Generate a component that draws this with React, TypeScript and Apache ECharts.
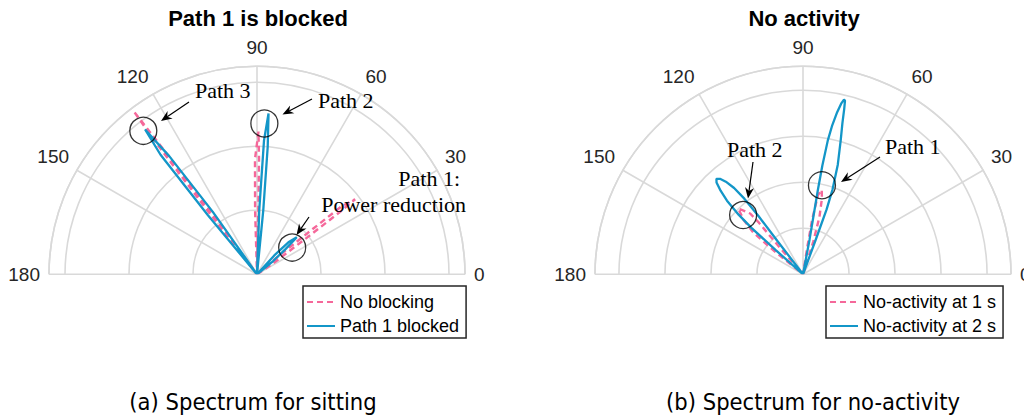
import React, { useEffect, useRef } from "react";
import * as echarts from "echarts";

// ---------- data: [radius, angle(deg)] ----------
const ANGLE_MIN = 0;
const ANGLE_MAX = 180;
const ANGLE_STEP = 30;

const LEFT_R_MAX = 3.25;
const RIGHT_R_MAX = 4.52;

const LEFT_SERIES_NAMES = ["No blocking", "Path 1 blocked"];
const RIGHT_SERIES_NAMES = ["No-activity at 1 s", "No-activity at 2 s"];

// (a) sitting: no blocking (pink dashed)
const NO_BLOCKING: number[][] = [
  [0, 30], [0.3, 34], [1.0, 36.3], [1.6, 36.9], [1.93, 37.4], [1.7, 38.8], [1.0, 39.2], [0.3, 41], [0, 44],
  [0, 88], [1.0, 88.8], [1.8, 89.0], [2.23, 89.4], [1.8, 91.0], [1.0, 91.7], [0, 92.5],
  [0, 125], [1.5, 126.5], [2.6, 126.9], [3.2, 127.1], [2.6, 127.5], [1.5, 127.8], [0, 129],
];

// (a) sitting: path 1 blocked (blue)
const PATH1_BLOCKED: number[][] = [
  [0, 36], [0.3, 39], [0.6, 41.5], [0.85, 43], [0.7, 45.5], [0.4, 47.5], [0, 50],
  [0, 83.5], [1.0, 84.4], [2.0, 85.2], [2.52, 85.9], [2.1, 87.0], [1.0, 88.0], [0, 88.8],
  [0, 124], [1.2, 125.3], [2.3, 126.6], [2.86, 127.7], [2.4, 128.9], [1.2, 129.7], [0, 130.5],
];

// (b) no activity at 1 s (pink dashed)
const NO_ACTIVITY_1S: number[][] = [
  [0, 74], [0.4, 72.5], [0.75, 72.5], [1.3, 74], [1.7, 76], [1.88, 77.5], [1.75, 79.3], [1.2, 80.5], [0.6, 81], [0, 80.5],
  [0, 128], [0.8, 131], [1.5, 130.5], [1.75, 131], [2.01, 134.5], [1.75, 137.5], [1.4, 140], [0.8, 141], [0, 140],
];

// (b) no activity at 2 s (blue)
const NO_ACTIVITY_2S: number[][] = [
  [0, 70], [0.8, 69.8], [1.5, 70.0], [1.95, 70.8], [2.5, 72.4], [3.03, 74.3], [3.4, 75.4], [3.7, 76.0], [3.88, 76.4], [3.9, 76.8], [3.8, 77.4], [3.6, 78.1], [3.3, 78.9], [2.96, 79.5], [2.4, 79.9], [1.86, 80.0], [0.76, 79.3], [0, 78.5],
  [0, 128], [0.9, 127.5], [1.6, 127.4], [2.08, 127.8], [2.4, 128.6], [2.62, 129.8], [2.75, 131], [2.8, 132.2], [2.74, 133.3], [2.55, 134.6], [2.3, 135.9], [1.9, 137.2], [1.5, 138.0], [0.8, 138.4], [0, 137],
];

// annotation circles [radius, angle]
const LEFT_MARKS: number[][] = [[2.86, 128.4], [2.36, 87.2], [0.69, 37.2]];
const RIGHT_MARKS: number[][] = [[1.98, 78], [1.83, 135.3]];

// ---------- layout / styles ----------
const PINK = "#f5689a";
const BLUE = "#1396c8";
const GRID = "#d9d9d9";
const SANS = "'Liberation Sans', Arial, Helvetica, sans-serif";
const SERIF = "'Liberation Serif', 'Times New Roman', serif";
const CAPTION_FONT = "'DejaVu Sans Condensed', 'Liberation Sans Narrow', 'DejaVu Sans', sans-serif";

const TEXTS = [
  { text: "Path 3", x: 195, y: 90, align: "left" },
  { text: "Path 2", x: 318, y: 100, align: "left" },
  { text: "Path 1:", x: 460, y: 178, align: "right" },
  { text: "Power reduction", x: 466, y: 204, align: "right" },
  { text: "Path 1", x: 885, y: 146, align: "left" },
  { text: "Path 2", x: 727, y: 149, align: "left" },
];

const ARROWS = [
  [189, 102, 161, 121],
  [312, 99, 282.5, 114.5],
  [309, 217, 296.5, 235],
  [880, 157, 841, 182],
  [753, 162, 748, 198.5],
];

function arrowElements(a: number[]) {
  const [x1, y1, x2, y2] = a;
  const dx = x2 - x1, dy = y2 - y1;
  const len = Math.hypot(dx, dy);
  const ux = dx / len, uy = dy / len;
  const px = -uy, py = ux;
  const L = 11, W = 4.5, N = 7.5;
  const bx = x2 - ux * L, by = y2 - uy * L;
  const nx = x2 - ux * N, ny = y2 - uy * N;
  return [
    {
      type: "line",
      shape: { x1, y1, x2: nx, y2: ny },
      style: { stroke: "#000", lineWidth: 1.2 },
      z: 100,
    },
    {
      type: "polygon",
      shape: {
        points: [
          [x2, y2],
          [bx + px * W, by + py * W],
          [nx, ny],
          [bx - px * W, by - py * W],
        ],
      },
      style: { fill: "#000" },
      z: 100,
    },
  ];
}

function angleAxis(polarIndex: number) {
  return {
    polarIndex,
    type: "value",
    min: ANGLE_MIN,
    max: ANGLE_MAX,
    interval: ANGLE_STEP,
    startAngle: 0,
    endAngle: 180,
    clockwise: false,
    axisLine: { show: true, lineStyle: { color: GRID, width: 1.6 } },
    axisTick: { show: false },
    axisLabel: { show: true, fontSize: 19, fontFamily: SANS, color: "#262626", margin: 9 },
    splitLine: { show: true, lineStyle: { color: GRID, width: 1.6 } },
  };
}

function radiusAxis(polarIndex: number, max: number) {
  return {
    polarIndex,
    type: "value",
    min: 0,
    max,
    interval: 1,
    axisLine: { show: false },
    axisTick: { show: false },
    axisLabel: { show: false },
    splitLine: { show: true, lineStyle: { color: GRID, width: 1.6 } },
  };
}

function legend(names: string[], left: number) {
  return {
    data: names,
    left,
    top: 286,
    orient: "vertical",
    itemWidth: 28,
    itemHeight: 14,
    itemGap: 6,
    padding: [7, 7, 3, 3],
    borderColor: "#262626",
    borderWidth: 1.5,
    borderRadius: 0,
    backgroundColor: "#fff",
    selectedMode: false,
    itemStyle: { color: "rgba(0,0,0,0)", borderWidth: 0, opacity: 0 },
    textStyle: { fontSize: 18, fontFamily: SANS, color: "#000" },
  };
}

function lineSeries(name: string, data: number[][], polarIndex: number, dashed: boolean) {
  const color = dashed ? PINK : BLUE;
  return {
    type: "line",
    name,
    coordinateSystem: "polar",
    polarIndex,
    data,
    symbol: "none",
    smooth: false,
    lineStyle: { color, width: dashed ? 2.4 : 2.3, type: dashed ? [6, 4] : "solid" },
    itemStyle: { color },
    z: dashed ? 2 : 3,
  };
}

function markSeries(data: number[][], polarIndex: number) {
  return {
    type: "scatter",
    coordinateSystem: "polar",
    polarIndex,
    data,
    symbol: "circle",
    symbolSize: 27,
    silent: true,
    itemStyle: { color: "rgba(0,0,0,0)", borderColor: "#000", borderWidth: 1.3 },
    z: 5,
  };
}

export default function App() {
  const ref = useRef<HTMLDivElement>(null);
  useEffect(() => {
    if (!ref.current) return;
    const chart = echarts.init(ref.current, undefined, { renderer: "svg" });
    const graphics: any[] = [
      {
        type: "text", x: 258, y: 18,
        style: { text: "Path 1 is blocked", fontSize: 22, fontWeight: "bold", fontFamily: SANS, fill: "#000", align: "center", verticalAlign: "middle" },
      },
      {
        type: "text", x: 804, y: 18,
        style: { text: "No activity", fontSize: 22, fontWeight: "bold", fontFamily: SANS, fill: "#000", align: "center", verticalAlign: "middle" },
      },
      {
        type: "text", x: 253, y: 402,
        style: { text: "(a) Spectrum for sitting", fontSize: 23.5, fontFamily: CAPTION_FONT, fill: "#000", align: "center", verticalAlign: "middle" },
      },
      {
        type: "text", x: 813, y: 402,
        style: { text: "(b) Spectrum for no-activity", fontSize: 23.5, fontFamily: CAPTION_FONT, fill: "#000", align: "center", verticalAlign: "middle" },
      },
      ...TEXTS.map((t) => ({
        type: "text", x: t.x, y: t.y, z: 100,
        style: { text: t.text, fontSize: 22, fontFamily: SERIF, fill: "#000", align: t.align, verticalAlign: "middle" },
      })),
      ...ARROWS.flatMap(arrowElements),
    ];
    chart.setOption({
      animation: false,
      backgroundColor: "#fff",
      polar: [
        { center: [257, 274.3], radius: 208 },
        { center: [803, 274.3], radius: 208 },
      ],
      angleAxis: [angleAxis(0), angleAxis(1)],
      radiusAxis: [radiusAxis(0, LEFT_R_MAX), radiusAxis(1, RIGHT_R_MAX)],
      legend: [legend(LEFT_SERIES_NAMES, 303), legend(RIGHT_SERIES_NAMES, 826)],
      series: [
        lineSeries(LEFT_SERIES_NAMES[0], NO_BLOCKING, 0, true),
        lineSeries(LEFT_SERIES_NAMES[1], PATH1_BLOCKED, 0, false),
        lineSeries(RIGHT_SERIES_NAMES[0], NO_ACTIVITY_1S, 1, true),
        lineSeries(RIGHT_SERIES_NAMES[1], NO_ACTIVITY_2S, 1, false),
        markSeries(LEFT_MARKS, 0),
        markSeries(RIGHT_MARKS, 1),
      ],
      graphic: graphics,
    });
    return () => chart.dispose();
  }, []);
  return (
    <div
      ref={ref}
      style={{ position: "fixed", left: 0, top: 0, width: 1024, height: 420, background: "#fff" }}
    />
  );
}
